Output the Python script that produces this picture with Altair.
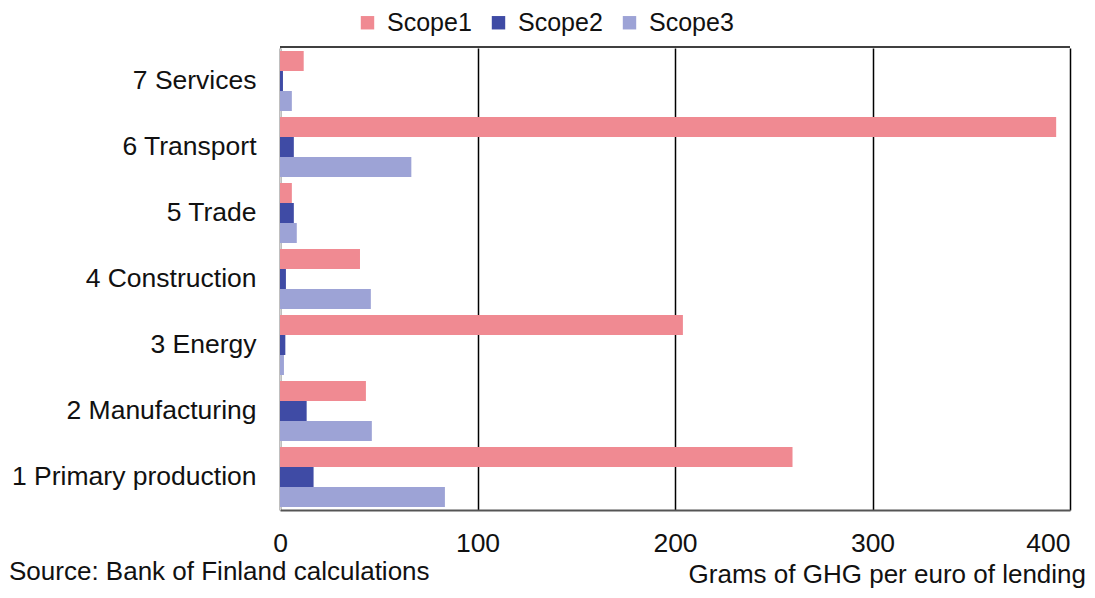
import altair as alt
import pandas as pd

sectors = ["7 Services", "6 Transport", "5 Trade", "4 Construction",
           "3 Energy", "2 Manufacturing", "1 Primary production"]
scopes = ["Scope1", "Scope2", "Scope3"]
scope1 = [12, 393, 6, 40.5, 204, 43.5, 259.5]
scope2 = [1.5, 7, 7, 3, 2.7, 13.5, 17]
scope3 = [6, 66.5, 8.5, 46, 2, 46.5, 83.5]
x_ticks = [0, 100, 200, 300, 400]
colors = ["#F08A92", "#3F4BA5", "#9DA3D6"]

rows = []
for i, s in enumerate(sectors):
    for sc, vals in zip(scopes, [scope1, scope2, scope3]):
        rows.append({"sector": s, "scope": sc, "value": vals[i]})
df = pd.DataFrame(rows)

W, H = 790, 462
FONT = "Liberation Sans"

bars = alt.Chart(df).mark_bar().encode(
    y=alt.Y("sector:N", sort=sectors,
            scale=alt.Scale(paddingInner=0.09, paddingOuter=0.045),
            axis=alt.Axis(title=None, ticks=False, domain=True, domainColor="#d0d0d0",
                          labelFontSize=26.5, labelFont=FONT, labelColor="#111",
                          labelPadding=24, labelLimit=0)),
    yOffset=alt.YOffset("scope:N", sort=scopes),
    x=alt.X("value:Q", scale=alt.Scale(domain=[0, 400], nice=False),
            axis=alt.Axis(title=None, values=x_ticks, ticks=False, grid=True,
                          gridColor="#000", gridWidth=1.5, domainColor="#555",
                          domainWidth=2, labelFontSize=26.5, labelFont=FONT,
                          labelColor="#111", labelPadding=20, labelFlush=False,
                          labelAlign={"condition": {"test": "datum.value == 400", "value": "right"},
                                      "value": "center"})),
    color=alt.Color("scope:N", sort=scopes,
                    scale=alt.Scale(domain=scopes, range=colors),
                    legend=alt.Legend(title=None, orient="none", direction="horizontal",
                                      legendX=75, legendY=-38, symbolType="square",
                                      symbolSize=180, symbolStrokeWidth=0,
                                      labelFontSize=25, labelFont=FONT,
                                      labelColor="#111", columnPadding=14,
                                      labelOffset=7)),
)

top_rule = alt.Chart(pd.DataFrame({"a": [0]})).mark_rule(color="#000", strokeWidth=1.5).encode(
    x=alt.value(0), x2=alt.value(W), y=alt.value(-1))

source = alt.Chart(pd.DataFrame({"t": ["Source: Bank of Finland calculations"]})).mark_text(
    align="left", baseline="middle", fontSize=26, font=FONT, color="#111").encode(
    text="t:N", x=alt.value(-271), y=alt.value(524))

unit = alt.Chart(pd.DataFrame({"t": ["Grams of GHG per euro of lending"]})).mark_text(
    align="right", baseline="middle", fontSize=26, font=FONT, color="#111").encode(
    text="t:N", x=alt.value(806), y=alt.value(527))

chart = alt.layer(bars, top_rule, source, unit).properties(
    width=W, height=H,
    autosize=alt.AutoSizeParams(type="none"),
    padding={"left": 272, "top": 40, "right": 17, "bottom": 80},
).configure_view(stroke=None)

chart.save("out.html", embed_options={"renderer": "svg", "actions": False})
